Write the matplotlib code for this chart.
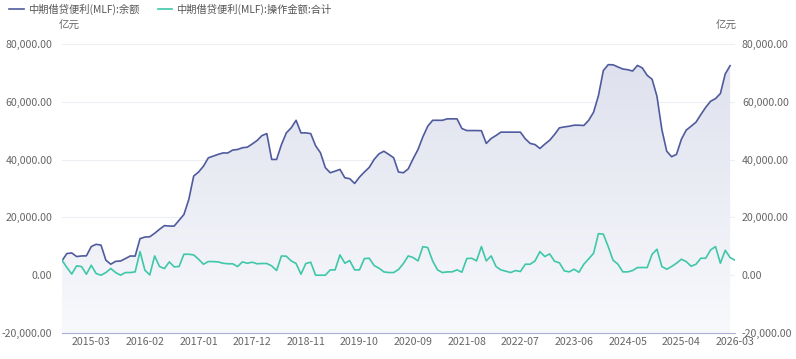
import numpy as np
import pandas as pd
import matplotlib
matplotlib.use('Agg')
import matplotlib.pyplot as plt
from matplotlib.patches import Polygon

plt.rcParams['font.family'] = ['Noto Sans CJK SC', 'DejaVu Sans']

# 月份 2014-09 ~ 2026-03
months = pd.period_range('2014-09', '2026-03', freq='M').strftime('%Y-%m').tolist()

# 余额 (亿元), 最后一个月没有数据
balance = [5000, 7500, 7700, 6450, 6650, 6700, 9900, 10700, 10400, 5200,
           3800, 4800, 4900, 5750, 6650, 6600, 12650, 13200, 13300, 14500,
           15900, 17150, 17000, 17000, 19000, 21000, 26200, 34300, 35700, 37700,
           40600, 41200, 41800, 42300, 42300, 43300, 43500, 44100, 44300, 45400,
           46600, 48300, 49000, 40050, 40050, 45200, 49250, 51000, 53600, 49250,
           49250, 49000, 44800, 42350, 37200, 35450, 36000, 36600, 33700, 33400,
           31750, 33950, 35700, 37300, 40050, 42000, 42900, 41800, 40650, 35700,
           35450, 36800, 40300, 43500, 47900, 51550, 53600, 53600, 53600, 54100,
           54100, 54100, 50750, 50050, 50050, 50050, 50000, 45600, 47300, 48350,
           49500, 49500, 49500, 49500, 49500, 47200, 45600, 45200, 43850, 45350,
           46700, 48700, 51000, 51300, 51550, 51900, 51900, 51800, 53600, 56400,
           62150, 70800, 72850, 72800, 72050, 71350, 71100, 70650, 72600, 71700,
           69150, 67800, 61900, 50400, 42900, 41000, 41800, 47000, 50200, 51550,
           52950, 55600, 58100, 60200, 61100, 62850, 69650, 72500, np.nan]

# 操作金额合计 (亿元)
operation = [5180, 2650, 400, 3220, 3000, 350, 3450, 570, 0, 920,
             2300, 920, 0, 920, 920, 1150, 8170, 1720, 100, 6670,
             3000, 2300, 4600, 2900, 3000, 7250, 7250, 7020, 5520, 3800,
             4720, 4720, 4600, 4140, 3950, 3950, 3000, 4600, 4140, 4500,
             3950, 4050, 4050, 3220, 1610, 6670, 6560, 4950, 4050, 350,
             4050, 4500, 0, 0, 0, 1840, 1840, 7020, 4140, 5070,
             1840, 1840, 5750, 5870, 3340, 2420, 1150, 920, 920, 1960,
             4030, 6670, 6100, 4950, 9900, 9550, 4950, 1840, 920, 1150,
             1150, 1840, 1040, 5750, 5870, 4950, 9900, 4950, 6670, 3000,
             1840, 1380, 920, 1610, 1270, 3800, 3800, 4950, 8170, 6450,
             7370, 4830, 4260, 1500, 1150, 2070, 1000, 3800, 5640, 7600,
             14380, 14200, 9900, 5180, 3800, 1150, 1150, 1610, 2650, 2650,
             2650, 7250, 8980, 3000, 2070, 3000, 4140, 5520, 4720, 3100,
             3800, 5870, 5870, 8750, 9900, 4140, 8630, 6100, 5180]

tick_labels = ['2015-03', '2016-02', '2017-01', '2017-12', '2018-11', '2019-10', '2020-09',
               '2021-08', '2022-07', '2023-06', '2024-05', '2025-04', '2026-03']
yticks = [-20000, 0, 20000, 40000, 60000, 80000]

c_bal = '#4f5b9e'
c_op = '#3ec7a9'
c_txt = '#666666'
fs = 7.6

x = np.arange(len(months))
bal = np.array(balance)
op = np.array(operation)

fig = plt.figure(figsize=(7.96, 3.59), dpi=100)
ax = fig.add_axes([62/796, 26/359, 673/796, 289/359])
ymin, ymax = -20000, 80000

# 渐变填充
ok = ~np.isnan(bal)
xs, ys = x[ok], bal[ok]
grad = np.linspace(0, 1, 256).reshape(-1, 1)
img = ax.imshow(grad, extent=[0, len(months) - 1, ymin, ymax], origin='lower', aspect='auto',
                cmap=matplotlib.colors.LinearSegmentedColormap.from_list('g', ['#f8f9fc', '#dde0ed']),
                zorder=1)
poly = Polygon(np.column_stack([np.r_[xs[0], xs, xs[-1]], np.r_[ymin, ys, ymin]]),
               closed=True, facecolor='none', edgecolor='none')
ax.add_patch(poly)
img.set_clip_path(poly)

ax.plot(x, bal, color=c_bal, lw=1.2, zorder=3, label='中期借贷便利(MLF):余额')
ax.plot(x, op, color=c_op, lw=1.2, zorder=3, label='中期借贷便利(MLF):操作金额:合计')

ax.set_xlim(0, len(months) - 1)
ax.set_ylim(ymin, ymax)
ax.set_yticks(yticks)
ax.set_yticklabels(['{:,.2f}'.format(v) for v in yticks])
ax.set_xticks([months.index(m) for m in tick_labels])
ax.set_xticklabels(tick_labels)
ax.grid(axis='y', color='#eceef4', lw=0.8, zorder=0)
ax.set_axisbelow(True)
for s in ['top', 'left', 'right']:
    ax.spines[s].set_visible(False)
ax.spines['bottom'].set_color('#aab0d6')
ax.tick_params(axis='both', length=0, colors=c_txt, labelsize=fs)
ax.tick_params(axis='x', pad=3)
ax.tick_params(axis='y', pad=7)

ax2 = ax.twinx()
ax2.set_ylim(ymin, ymax)
ax2.set_yticks(yticks)
ax2.set_yticklabels(['{:,.2f}'.format(v) for v in yticks])
for s in ax2.spines.values():
    s.set_visible(False)
ax2.tick_params(axis='y', length=0, colors=c_txt, labelsize=fs, pad=5)

fig.text(69/796, 1 - 26/359, '亿元', color=c_txt, fontsize=fs, ha='center', va='center')
fig.text(726/796, 1 - 26/359, '亿元', color=c_txt, fontsize=fs, ha='center', va='center')

fig.legend(loc='upper left', bbox_to_anchor=(0.0, 1.015), ncol=2, frameon=False,
           fontsize=7.4, handlelength=1.4, columnspacing=1.8, handletextpad=0.4,
           labelcolor='#555555')

fig.savefig('out.png', dpi=100)
